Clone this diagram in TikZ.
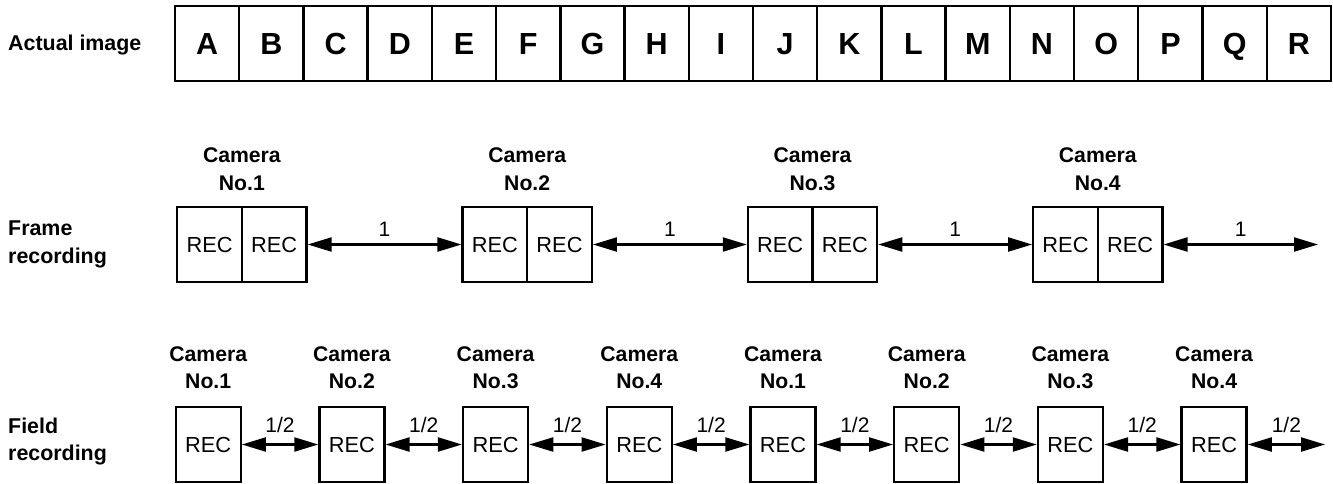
\documentclass[tikz,border=0pt]{standalone}
\usepackage{fontspec}
\setmainfont{Liberation Sans}
\usetikzlibrary{arrows.meta}
\begin{document}
\begin{tikzpicture}[x=1pt,y=-1pt,
 cell/.style={draw, line width=2.3pt, minimum width=64.28pt, minimum height=75pt, inner sep=0pt, text height=21.6pt, text depth=0pt, font=\bfseries\fontsize{30.5}{36}\selectfont},
 rec/.style={draw, line width=2.3pt, minimum width=64.6pt, minimum height=75pt, inner sep=0pt, font=\fontsize{21.8}{25}\selectfont},
 lbl/.style={inner sep=0pt, anchor=base, font=\bfseries\fontsize{21.2}{25}\selectfont},
 side/.style={inner sep=0pt, anchor=base west, font=\bfseries\fontsize{21.4}{25}\selectfont},
 num/.style={inner sep=0pt, anchor=base, font=\fontsize{21}{24}\selectfont},
 dbl/.style={{Triangle[length=24pt,width=14pt]}-{Triangle[length=24pt,width=14pt]}, line width=2.2pt}]
\useasboundingbox (0,0) rectangle (1333,483);
% left labels
\node[side] (ai) at (8,50) {Actual image};
\node[side] (fr1) at (8,235) {Frame};
\node[side] (fr2) at (8,263.3) {recording};
\node[side] (fd1) at (8,433.3) {Field};
\node[side] (fd2) at (8,460.5) {recording};
% actual image cells
\foreach \L [count=\i] in {A,B,C,D,E,F,G,H,I,J,K,L,M,N,O,P,Q,R} {
  \node[cell] (c\i) at ({175+64.22*(\i-0.5)},43.5) {\L};
}
% frame recording
\foreach \k in {1,...,4} {
  \pgfmathsetmacro\xl{177.3+285.3*(\k-1)}
  \node[rec] (fa\k) at (\xl+32.3,244.5) {REC};
  \node[rec] (fb\k) at (\xl+96.9,244.5) {REC};
  \node[lbl] (fc\k) at (\xl+64.6,162.7) {Camera};
  \node[lbl] (fn\k) at (\xl+64.6,190) {No.\k};
}
\foreach \k [evaluate=\k as \n using int(\k+1)] in {1,2,3} {
  \draw[dbl] (fb\k.east) -- node[num, yshift=8pt] (fl\k) {1} (fa\n.west);
}
\coordinate (fend) at (1318,244.5);
\draw[dbl] (fb4.east) -- node[num, yshift=8pt] (fl4) {1} (fend);
% field recording
\foreach \k/\c in {1/1,2/2,3/3,4/4,5/1,6/2,7/3,8/4} {
  \pgfmathsetmacro\xc{175.7+143.7*(\k-1)+32.5}
  \node[rec, minimum width=65pt] (g\k) at (\xc,444.5) {REC};
  \node[lbl] (gc\k) at (\xc,361.7) {Camera};
  \node[lbl] (gn\k) at (\xc,388.3) {No.\c};
}
\foreach \k [evaluate=\k as \n using int(\k+1)] in {1,...,7} {
  \draw[dbl] (g\k.east) -- node[num, yshift=12pt] (gl\k) {1/2} (g\n.west);
}
\coordinate (gend) at (1325,444.5);
\draw[dbl] (g8.east) -- node[num, yshift=12pt] (gl8) {1/2} (gend);
\end{tikzpicture}
\end{document}
